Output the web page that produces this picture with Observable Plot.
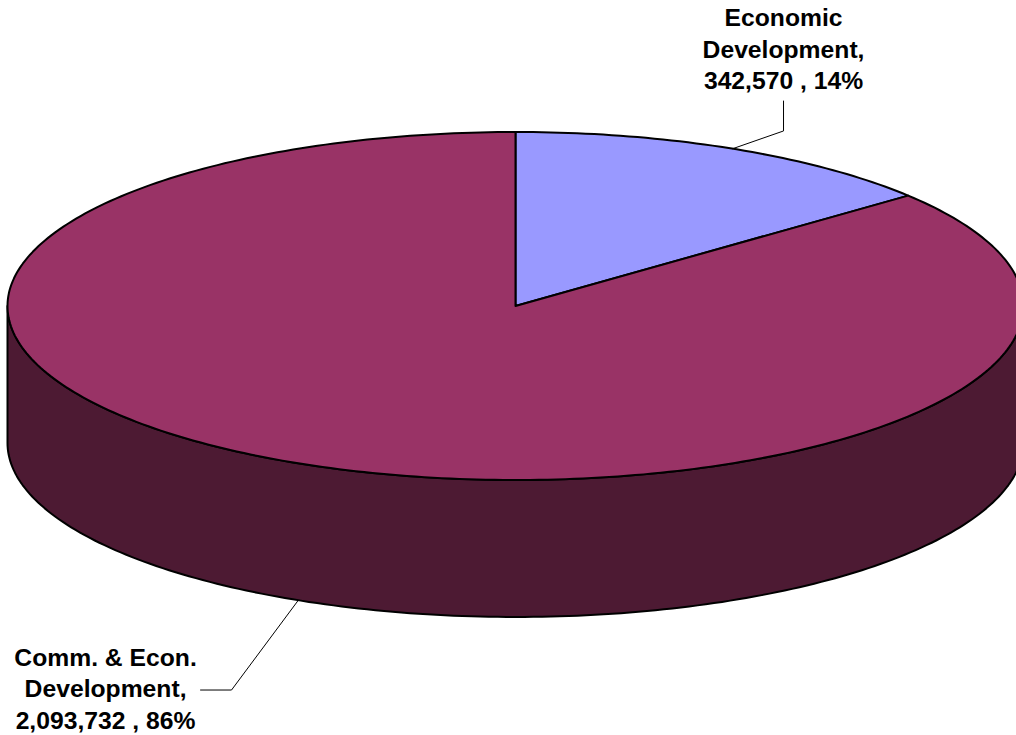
<!DOCTYPE html>
<html>
<head>
<meta charset="utf-8">
<script src="https://cdn.jsdelivr.net/npm/d3@7"></script>
<script src="https://cdn.jsdelivr.net/npm/@observablehq/plot@0.6"></script>
<style>
  html, body { margin: 0; padding: 0; background: #fff; overflow: hidden; }
  svg { display: block; }
</style>
</head>
<body>
<div id="chart"></div>
<script>
// Data
const categories = ["Economic\nDevelopment,", "Comm. & Econ.\nDevelopment,"];
const values = [342570, 2093732];
const percentLabels = ["14%", "86%"];
const sliceColors = ["#9999FF", "#993366"];
const wallColor = "#4D1A33";

// Layout in pie units (radius = 1 on both axes, y up)
const wallDepth = 0.787;
const labelElbows = [[0.5276, 1.006], [-0.559, -2.207]];
const leaderEnds = [[0.5276, 1.178], [-0.62, -2.207]];
const labelCentres = [[0.5276, 1.485], [-0.807, -2.19]];

// Geometry from the values: clockwise from twelve o'clock
const total = d3.sum(values);
const cum = d3.cumsum(values);
const angles = values.map((v, i) => [(cum[i] - v) / total * 2 * Math.PI, cum[i] / total * 2 * Math.PI]);
const onRim = (a, drop = 0) => ({x: Math.sin(a), y: Math.cos(a) - drop});
const arc = (a0, a1, drop = 0) => {
  const n = Math.max(2, Math.ceil((a1 - a0) / (Math.PI / 180)));
  return d3.range(n + 1).map(i => onRim(a0 + (a1 - a0) * i / n, drop));
};

const slices = angles.map(([a0, a1]) => [{x: 0, y: 0}, ...arc(a0, a1)]);
const wall = [...arc(Math.PI / 2, 3 * Math.PI / 2), ...arc(Math.PI / 2, 3 * Math.PI / 2, wallDepth).reverse()];

const leaders = angles.map(([a0, a1], i) => {
  const mid = (a0 + a1) / 2;
  const start = onRim(mid, Math.cos(mid) < 0 ? wallDepth : 0);
  return [start,
    {x: labelElbows[i][0], y: labelElbows[i][1]},
    {x: leaderEnds[i][0], y: leaderEnds[i][1]}];
});

const labels = values.map((v, i) => ({
  x: labelCentres[i][0],
  y: labelCentres[i][1],
  text: `${categories[i]}\n${d3.format(",")(v)} , ${percentLabels[i]}`
}));

const outline = {x: "x", y: "y", stroke: "black", strokeWidth: 2, strokeLinejoin: "round", curve: "linear-closed"};

const chart = Plot.plot({
  width: 1016,
  height: 735,
  margin: 0,
  style: {background: "#fff", overflow: "hidden"},
  x: {domain: [-1, 1], range: [7, 1023], axis: null},
  y: {domain: [1, -1], range: [131.5, 479.5], axis: null},
  marks: [
    Plot.line(wall, {...outline, fill: wallColor}),
    ...slices.map((s, i) => Plot.line(s, {...outline, fill: sliceColors[i]})),
    ...leaders.map(l => Plot.line(l, {x: "x", y: "y", stroke: "black", strokeWidth: 1})),
    Plot.text(labels, {
      x: "x", y: "y", text: "text",
      fontFamily: "'Liberation Sans', Arial, sans-serif",
      fontWeight: "bold", fontSize: 24.7, lineHeight: 1.28,
      fill: "black", textAnchor: "middle"
    })
  ]
});
document.getElementById("chart").appendChild(chart);
</script>
</body>
</html>
